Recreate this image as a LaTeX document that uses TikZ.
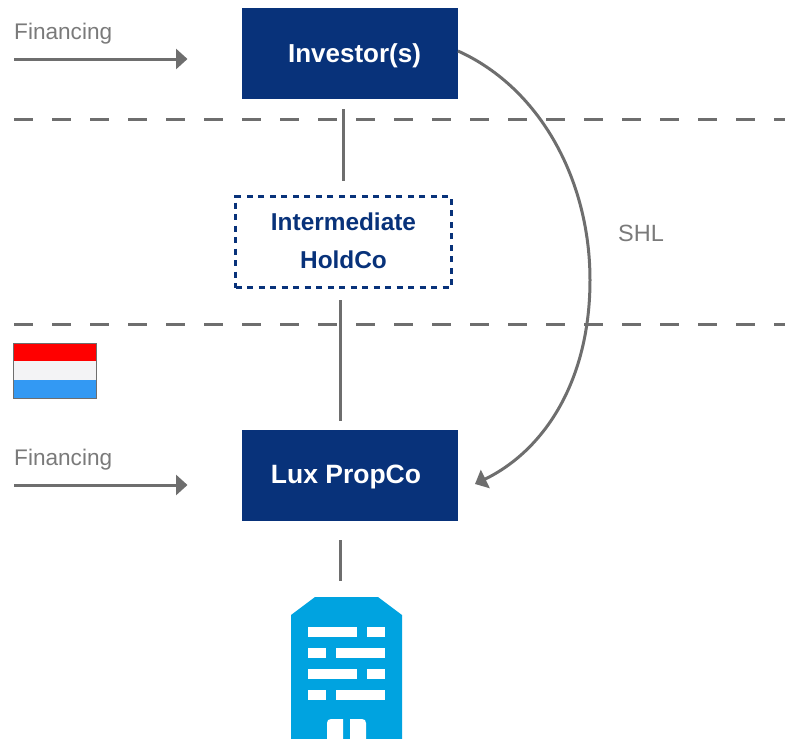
\documentclass[tikz,border=0pt]{standalone}
\usepackage{fontspec}
\setmainfont{Liberation Sans}
\usetikzlibrary{arrows.meta}
\definecolor{navy}{HTML}{08327A}
\definecolor{linegray}{HTML}{6E6E6E}
\definecolor{textgray}{HTML}{7A7A7A}
\definecolor{bldg}{HTML}{00A3E0}
\definecolor{flagblue}{HTML}{3399F3}
\definecolor{flagwhite}{HTML}{F3F3F5}
\tikzset{
  x=1pt,y=-1pt,
  solidbox/.style={fill=navy,text=white,font=\bfseries\fontsize{26}{30}\selectfont,inner sep=0pt,anchor=center,text height=17pt,text depth=0pt},
  dashbox/.style={draw=navy,line width=3pt,dash pattern=on 6pt off 5.5pt,text=navy,align=center,font=\bfseries\fontsize{24.4}{38}\selectfont,inner sep=0pt,anchor=center},
  lbl/.style={text=textgray,font=\fontsize{22.6}{27}\selectfont,inner sep=0pt},
  conn/.style={draw=linegray,line width=3pt},
  sep/.style={draw=linegray,line width=3pt,dash pattern=on 19pt off 19pt},
  tip/.style={-{Triangle[length=11.5pt,width=20pt]}},
}
\begin{document}
\begin{tikzpicture}
\useasboundingbox (0,0) rectangle (785,739);
% separators
\coordinate (s1a) at (14,119); \coordinate (s1b) at (785,119);
\coordinate (s2a) at (14,324); \coordinate (s2b) at (785,324);
\draw[sep] (s1a) -- (s1b);
\draw[sep] (s2a) -- (s2b);
% boxes
\node[solidbox,minimum width=216pt,minimum height=91pt] (inv) at (350,53.5) {\hspace*{9pt}Investor(s)};
\node[dashbox,minimum width=216pt,minimum height=91pt] (hold) at (343.5,242) {\raisebox{3pt}{Intermediate}\\\raisebox{3pt}{HoldCo}};
\node[solidbox,minimum width=216pt,minimum height=91pt,font=\bfseries\fontsize{26.5}{30}\selectfont,text height=15pt] (lux) at (350,475.5) {\hspace*{-8pt}Lux PropCo};
% labels
\node[lbl,anchor=base west] (fin1) at (14,39) {Financing};
\node[lbl,anchor=base west] (fin2) at (14,465) {Financing};
\node[lbl,anchor=base west,font=\fontsize{23.5}{27}\selectfont] (shl) at (618,241) {SHL};
% connector ends
\coordinate (c1a) at (343.5,109); \coordinate (c1b) at (343.5,181);
\coordinate (c2a) at (340,300); \coordinate (c2b) at (340,421);
\coordinate (c3a) at (340,540); \coordinate (c3b) at (340,581);
\draw[conn] (c1a) -- (c1b);
\draw[conn] (c2a) -- (c2b);
\draw[conn] (c3a) -- (c3b);
% financing arrows
\coordinate (f1a) at (14,59); \coordinate (f1b) at (187.5,59);
\coordinate (f2a) at (14,485); \coordinate (f2b) at (187.5,485);
\draw[conn,tip] (f1a) -- (f1b);
\draw[conn,tip] (f2a) -- (f2b);
% SHL curve
\coordinate (shlstart) at (458,51);
\coordinate (shlmid) at (590,280);
\coordinate (shlend) at (475,484);
\draw[conn,tip] (shlstart) .. controls (540,88) and (590,180) .. (shlmid) .. controls (590,380) and (545,450) .. (shlend);
% flag
\fill[red] (13,343) rectangle (97,361);
\fill[flagwhite] (13,361) rectangle (97,380);
\fill[flagblue] (13,380) rectangle (97,399);
\draw[linegray,line width=0.8pt] (13.4,343.4) rectangle (96.6,398.6);
% building
\fill[bldg] (291,739) -- (291,615) -- (315,597) -- (378,597) -- (402,615) -- (402,739) -- cycle;
\foreach \y/\a/\b/\c/\d in {627/308/357/367/385,648/308/326/336/385,669/308/357/367/385,690/308/326/336/385}{
  \fill[white] (\a,\y) rectangle (\b,\y+10);
  \fill[white] (\c,\y) rectangle (\d,\y+10);
}
\fill[white] (327,739) -- (327,723) .. controls (327,720.5) and (328.5,719) .. (331,719) -- (343,719) -- (343,739) -- cycle;
\fill[white] (350,739) -- (350,719) -- (362,719) .. controls (364.5,719) and (366,720.5) .. (366,723) -- (366,739) -- cycle;
\end{tikzpicture}
\end{document}
